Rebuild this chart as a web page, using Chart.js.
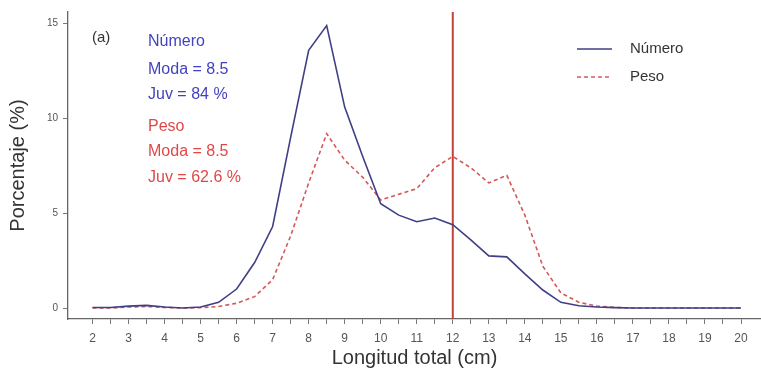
<!DOCTYPE html>
<html><head><meta charset="utf-8">
<script src="https://cdn.jsdelivr.net/npm/chart.js@4"></script>
<style>html,body{margin:0;padding:0;background:#fff}#wrap{width:761px;height:378px}</style>
</head><body><div id="wrap"><canvas id="c" width="761" height="378"></canvas></div>
<script>
const lengths = [2,2.5,3,3.5,4,4.5,5,5.5,6,6.5,7,7.5,8,8.5,9,9.5,10,10.5,11,11.5,12,12.5,13,13.5,14,14.5,15,15.5,16,16.5,17,17.5,18,18.5,19,19.5,20];
const numero = [0.03,0.03,0.1,0.14,0.05,0,0.05,0.3,1.0,2.4,4.3,9.0,13.6,14.9,10.6,8.0,5.5,4.9,4.55,4.75,4.4,3.6,2.75,2.7,1.8,0.95,0.3,0.12,0.05,0.02,0,0,0,0,0,0,0];
const peso = [0,0,0.05,0.08,0.03,0,0.02,0.08,0.25,0.6,1.5,3.8,6.6,9.2,7.8,6.9,5.7,6.0,6.3,7.4,8.0,7.4,6.6,7.0,4.9,2.2,0.8,0.3,0.1,0.03,0,0,0,0,0,0,0];
const xTicks = [2,2.5,3,3.5,4,4.5,5,5.5,6,6.5,7,7.5,8,8.5,9,9.5,10,10.5,11,11.5,12,12.5,13,13.5,14,14.5,15,15.5,16,16.5,17,17.5,18,18.5,19,19.5,20];
const yTicks = [0,5,10,15];
const cutoff = [12];
const seriesNames = ['Número','Peso'];
const annotBlue = ['Número','Moda = 8.5','Juv = 84 %'];
const annotRed = ['Peso','Moda = 8.5','Juv = 62.6 %'];
const panelLabel = '(a)';
const xTitle = 'Longitud total (cm)';
const yTitle = 'Porcentaje (%)';

const X_MIN = 1.32, X_MAX = 20.555, Y_MIN = -0.58, Y_MAX = 15.62;
const FONT = "'Liberation Sans', Arial, sans-serif";
const BLUE = '#3f3f86', RED = '#d45858', VLINE = '#c0443c';

const textPlugin = {
  id: 'texts',
  afterDatasetsDraw(chart) {
    const ctx = chart.ctx;
    ctx.save();
    ctx.textBaseline = 'middle';
    ctx.textAlign = 'left';
    ctx.font = '15px ' + FONT;
    ctx.fillStyle = '#333';
    ctx.fillText(panelLabel, 92, 38);
    ctx.font = '16px ' + FONT;
    const ys1 = [42, 70, 95], ys2 = [127, 152, 178];
    ctx.fillStyle = '#4343bf';
    annotBlue.forEach((t, i) => ctx.fillText(t, 148, ys1[i]));
    ctx.fillStyle = '#e04848';
    annotRed.forEach((t, i) => ctx.fillText(t, 148, ys2[i]));
    // legend
    const ds = chart.data.datasets;
    const lys = [49, 77];
    [0, 1].forEach(i => {
      ctx.strokeStyle = ds[i].borderColor;
      ctx.lineWidth = 1.6;
      ctx.setLineDash(ds[i].borderDash || []);
      ctx.beginPath(); ctx.moveTo(577, lys[i]); ctx.lineTo(612, lys[i]); ctx.stroke();
      ctx.setLineDash([]);
      ctx.fillStyle = '#333';
      ctx.font = '15px ' + FONT;
      ctx.fillText(ds[i].label, 630, lys[i]);
    });
    ctx.restore();
  }
};

new Chart(document.getElementById('c'), {
  type: 'line',
  data: {
    datasets: [
      { label: seriesNames[0], data: lengths.map((x, i) => ({x, y: numero[i]})), borderColor: BLUE, borderWidth: 1.6, pointRadius: 0, tension: 0, fill: false },
      { label: seriesNames[1], data: lengths.map((x, i) => ({x, y: peso[i]})), borderColor: RED, borderWidth: 1.6, borderDash: [4, 3], pointRadius: 0, tension: 0, fill: false },
      { label: 'corte', data: [{x: cutoff[0], y: Y_MIN}, {x: cutoff[0], y: Y_MAX}], borderColor: VLINE, borderWidth: 2, pointRadius: 0, fill: false }
    ]
  },
  options: {
    responsive: false,
    animation: false,
    devicePixelRatio: 1,
    layout: { padding: { left: 0, top: 12, right: 0, bottom: 0 } },
    plugins: { legend: { display: false }, tooltip: { enabled: false } },
    scales: {
      x: {
        type: 'linear', min: X_MIN, max: X_MAX,
        afterBuildTicks: s => { s.ticks = xTicks.map(v => ({value: v})); },
        afterFit: s => { s.height = 59; },
        ticks: { autoSkip: false, maxRotation: 0, padding: 7, color: '#555', font: { size: 12, family: FONT },
          callback: v => Number.isInteger(v) ? String(v) : '' },
        grid: { drawOnChartArea: false, drawTicks: true, tickLength: 5, color: '#777' },
        border: { display: true, color: '#666', width: 1.3 },
        title: { display: true, text: xTitle, color: '#333', font: { size: 20, family: FONT }, padding: { top: 0, bottom: 8 } }
      },
      y: {
        type: 'linear', min: Y_MIN, max: Y_MAX,
        afterBuildTicks: s => { s.ticks = yTicks.map(v => ({value: v})); },
        afterFit: s => { s.width = 68; },
        ticks: { padding: 5, color: '#555', font: { size: 10, family: FONT } },
        grid: { drawOnChartArea: false, drawTicks: true, tickLength: 5, color: '#777' },
        border: { display: true, color: '#666', width: 1.3 },
        title: { display: true, text: yTitle, color: '#333', font: { size: 20, family: FONT }, padding: { top: 6, bottom: 0 } }
      }
    }
  },
  plugins: [textPlugin]
});
</script></body></html>
